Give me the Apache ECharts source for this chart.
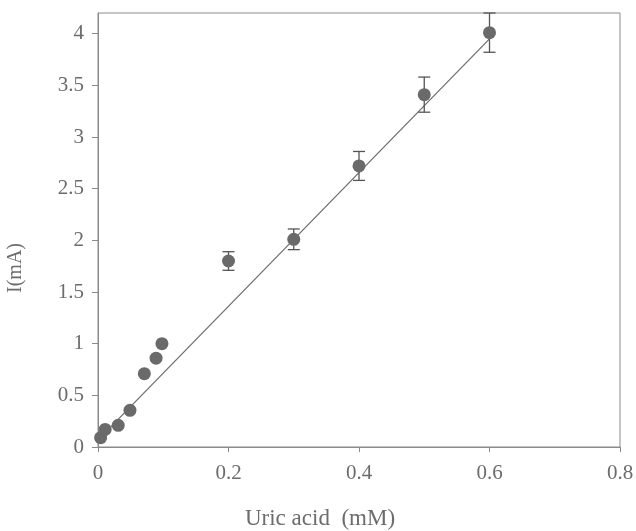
<!DOCTYPE html>
<html>
<head>
  <meta charset="utf-8">
</head>
<body style="margin: 0; background: #fff">
  <div id="container" style="width: 636px; height: 531px"></div>
  <script src="https://cdn.jsdelivr.net/npm/echarts@6/dist/echarts.min.js"></script>
  <script>
// measured points: uric acid (mM) vs current (mA)
const conc = [0.004, 0.011, 0.031, 0.049, 0.071, 0.089, 0.098, 0.2, 0.3, 0.4, 0.5, 0.6];
const current = [0.09, 0.17, 0.21, 0.355, 0.71, 0.86, 1.0, 1.80, 2.01, 2.72, 3.41, 4.01];
// error bar half-widths (0 = no bar drawn)
const errs = [0, 0, 0, 0, 0, 0, 0, 0.09, 0.1, 0.14, 0.17, 0.19];
// linear fit end points
const fitX = [0.005, 0.6];
const fitY = [0.10, 3.95];

const textColor = '#6c6c6c';
const axisColor = '#8a8a8a';
const font = 'Liberation Serif';

var chart = echarts.init(document.getElementById('container'));

var pts = conc.map(function (x, i) { return [x, current[i]]; });
var bars = conc.map(function (x, i) { return [x, current[i], errs[i]]; }).filter(function (d) { return d[2] > 0; });

var option = {
  animation: false,
  grid: {
    left: 98, right: 16, top: 13, bottom: 84,
    outerBoundsMode: 'none',
    show: true, borderColor: axisColor, borderWidth: 1
  },
  xAxis: {
    type: 'value', min: 0, max: 0.8, interval: 0.2,
    name: 'Uric acid  (mM)', nameLocation: 'middle', nameGap: 60,
    nameTextStyle: { color: textColor, fontFamily: font, fontSize: 23, padding: [0, 78, 0, 0] },
    axisLine: { lineStyle: { color: axisColor } },
    axisTick: { show: true, length: 5, lineStyle: { color: axisColor } },
    axisLabel: { color: textColor, fontFamily: font, fontSize: 21, margin: 16 },
    splitLine: { show: false }
  },
  yAxis: {
    type: 'value', min: 0, max: 4.2, interval: 0.5,
    name: 'I(mA)', nameLocation: 'middle', nameGap: 72, nameRotate: 90,
    nameTextStyle: { color: textColor, fontFamily: font, fontSize: 20, padding: [0, 76, 0, 0] },
    axisLine: { show: true, lineStyle: { color: axisColor } },
    axisTick: { show: true, length: 6, lineStyle: { color: axisColor } },
    axisLabel: { color: textColor, fontFamily: font, fontSize: 21, margin: 14, showMaxLabel: false },
    splitLine: { show: false }
  },
  series: [
    {
      type: 'line',
      data: fitX.map(function (x, i) { return [x, fitY[i]]; }),
      symbol: 'none',
      lineStyle: { color: '#6a6a6a', width: 1.2 },
      z: 1
    },
    {
      type: 'custom',
      data: bars,
      renderItem: function (params, api) {
        var x = api.value(0), y = api.value(1), e = api.value(2);
        var top = api.coord([x, y + e]);
        var bot = api.coord([x, y - e]);
        var w = 6;
        var st = { stroke: '#555', lineWidth: 1.3 };
        return {
          type: 'group',
          children: [
            { type: 'line', shape: { x1: top[0], y1: top[1], x2: bot[0], y2: bot[1] }, style: st },
            { type: 'line', shape: { x1: top[0] - w, y1: top[1], x2: top[0] + w, y2: top[1] }, style: st },
            { type: 'line', shape: { x1: bot[0] - w, y1: bot[1], x2: bot[0] + w, y2: bot[1] }, style: st }
          ]
        };
      },
      z: 2
    },
    {
      type: 'scatter',
      data: pts,
      symbol: 'circle',
      symbolSize: 13,
      itemStyle: { color: '#6a6a6a', opacity: 1 },
      z: 3
    }
  ]
};
chart.setOption(option);
  </script>
</body>
</html>
